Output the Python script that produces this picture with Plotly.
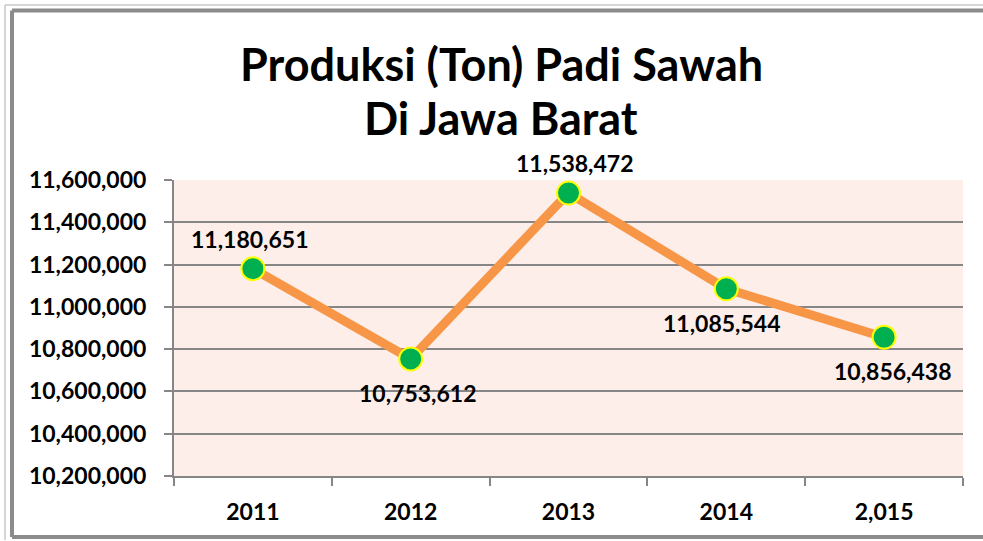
import plotly.graph_objects as go

years = ["2011", "2012", "2013", "2014", "2015"]
tick_labels = ["2011", "2012", "2013", "2014", "2,015"]
produksi = [11180651, 10753612, 11538472, 11085544, 10856438]
label_side = [1, -1, 1, -1, -1]  # 1 = above, -1 = below
label_xshift = [-3, 7, 6, -5, 8]
title_lines = ["Produksi (Ton) Padi Sawah", "Di Jawa Barat"]

W, H = 983, 541
L, R, T, B = 174, 20, 180, 65
pw, ph = W - L - R, H - T - B

def px2x(px):
    return (px - L) / pw

def py2y(py):
    return (H - B - py) / ph

FONT = "Lato"

fig = go.Figure()
fig.add_trace(go.Scatter(
    x=years, y=produksi, mode="lines+markers",
    line=dict(color="#F79646", width=9),
    marker=dict(size=23, color="#00B050", line=dict(color="#FFFF00", width=2)),
    hoverinfo="x+y", showlegend=False,
))

annotations = []
for i, (v, s, dx) in enumerate(zip(produksi, label_side, label_xshift)):
    annotations.append(dict(
        x=i, y=v, xref="x", yref="y", text=f"<b>{v:,}</b>", showarrow=False,
        yshift=30 * s + (0 if s > 0 else -4), xshift=dx,
        font=dict(family=FONT, size=23, color="#000000"),
    ))
for line, cy in zip(title_lines, [64, 118]):
    annotations.append(dict(
        x=px2x(501), y=py2y(cy), xref="paper", yref="paper", text=f"<b>{line}</b>",
        showarrow=False, xanchor="center", yanchor="middle",
        font=dict(family=FONT, size=45, color="#000000"),
    ))

def seg(x0, y0, x1, y1, color, width):
    return dict(type="line", xref="paper", yref="paper",
                x0=px2x(x0), y0=py2y(y0), x1=px2x(x1), y1=py2y(y1),
                line=dict(color=color, width=width), layer="below")

shapes = [
    seg(5, 5, 1030, 5, "#C8C8C8", 1.5),
    seg(5, 5, 5, 540, "#C8C8C8", 1.5),
    seg(12, 10.5, 1030, 10.5, "#8C8C8C", 4),
    seg(12, 10.5, 12, 537, "#8C8C8C", 4),
    seg(12, 537, 1030, 537, "#8C8C8C", 4),
]

fig.update_layout(
    width=W, height=H,
    margin=dict(l=L, r=R, t=T, b=B, autoexpand=False),
    paper_bgcolor="#FFFFFF",
    plot_bgcolor="#FDEEEA",
    font=dict(family=FONT, color="#000000"),
    annotations=annotations,
    shapes=shapes,
    xaxis=dict(
        type="category", range=[-0.5, 4.5],
        tickvals=years, ticktext=[f"<b>{t}</b>" for t in tick_labels],
        tickson="boundaries", ticks="outside", ticklen=8, tickcolor="#868686", tickwidth=1.5,
        showline=True, linecolor="#868686", linewidth=2,
        showgrid=False, tickfont=dict(family=FONT, size=23),
        ticklabelstandoff=14,
    ),
    yaxis=dict(
        range=[10200000, 11600000], dtick=200000, tick0=10200000,
        tickformat=",", ticks="outside", ticklen=8, tickcolor="#868686", tickwidth=1.5,
        showline=True, linecolor="#868686", linewidth=2,
        showgrid=True, gridcolor="#868686", gridwidth=1.5,
        tickfont=dict(family=FONT, size=23, weight="bold"),
        ticklabelstandoff=13, zeroline=False,
    ),
)

fig.write_html(
    "out.html",
    config={"displayModeBar": False},
    post_script="document.body.style.margin='0';document.body.style.overflow='hidden';",
)
